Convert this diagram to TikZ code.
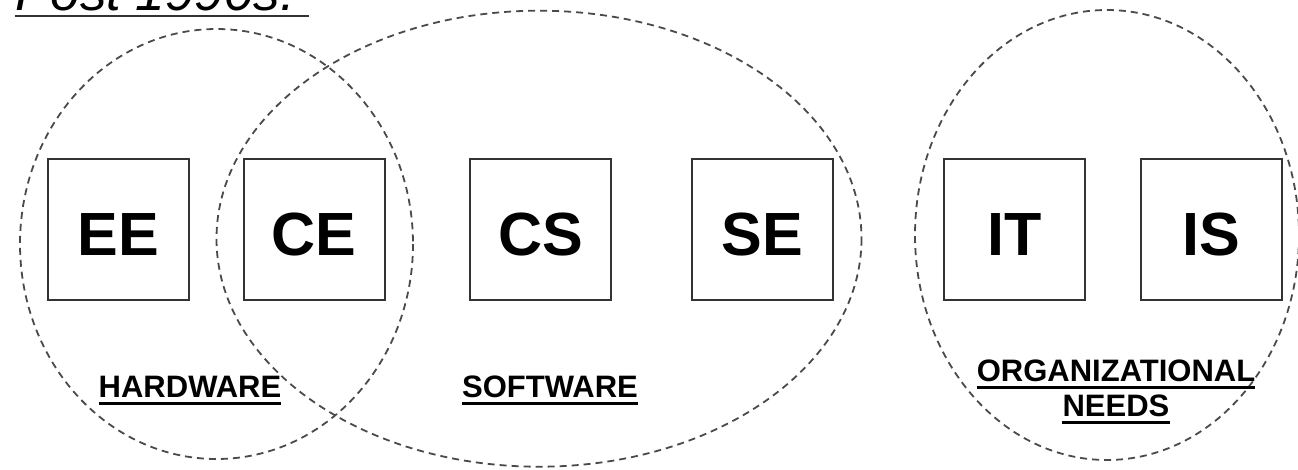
\documentclass[tikz,border=0pt]{standalone}
\usepackage{fontspec}
\setmainfont{Liberation Sans}
\usetikzlibrary{calc}
\definecolor{boxline}{HTML}{333333}
\definecolor{dashline}{HTML}{4a4a4a}
\begin{document}
\begin{tikzpicture}[x=1pt,y=-1pt,
  field/.style={draw=boxline, line width=2pt, minimum size=141pt, inner sep=0pt,
    font=\fontsize{61}{61}\selectfont\bfseries, text height=52pt, text depth=0pt},
  area/.style={draw=dashline, line width=1.8pt, dash pattern=on 7pt off 5pt},
  tag/.style={inner sep=0pt, anchor=base, font=\fontsize{31}{31}\selectfont\bfseries},
  uline/.style={line width=3pt, black}]
\useasboundingbox (0,0) rectangle (1298,469);
% title (cut off at top, as in the reference)
\node[anchor=base west, inner sep=0pt, font=\fontsize{53}{53}\selectfont\itshape] (title) at (15,10) {Post 1990s:};
\draw[line width=2pt, boxline] (15,15.5) -- (309,15.5);
% areas
\draw[area] (216.5,244) ellipse [x radius=196.5, y radius=215];
\draw[area] (539,238.7) ellipse [x radius=322.5, y radius=228];
\draw[area] (1107,235) ellipse [x radius=192, y radius=225];
% boxes
\node[field] (ee) at (118,229) {EE};
\node[field] (ce) at (314,229) {CE};
\node[field] (cs) at (540.5,229) {CS};
\node[field] (se) at (762.5,229) {SE};
\node[field] (it) at (1014.5,229) {IT};
\node[field] (is) at (1211,229) {IS};
% labels
\node[tag] (hw) at (190,397) {HARDWARE};
\node[tag] (sw) at (550,397) {SOFTWARE};
\node[tag] (org) at (1116,381.7) {ORGANIZATIONAL};
\node[tag] (needs) at (1116,416.7) {NEEDS};
\foreach \n in {hw,sw,org,needs}
  \draw[uline] ($(\n.base west)+(0,6)$) -- ($(\n.base east)+(0,6)$);
\end{tikzpicture}
\end{document}
